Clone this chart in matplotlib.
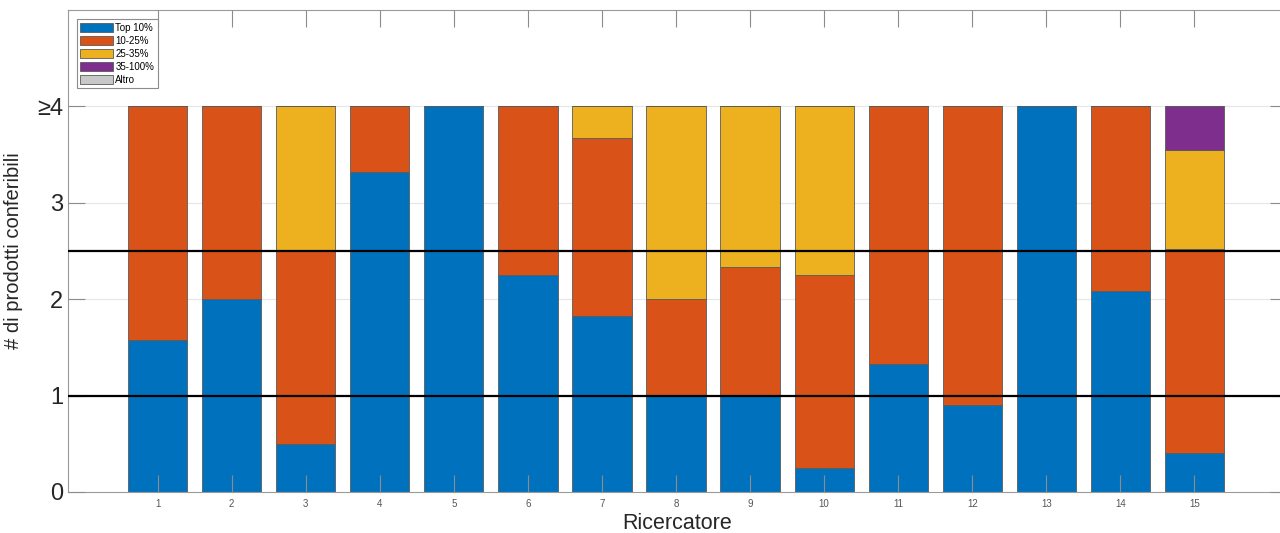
import numpy as np
import matplotlib
matplotlib.use('Agg')
import matplotlib.pyplot as plt

plt.rcParams['font.family'] = ['Liberation Sans', 'DejaVu Sans']

# dati: numero di prodotti per fascia, per ricercatore
ricercatori = np.arange(1, 16)
top10 = [1.58, 2.0, 0.5, 3.32, 4.0, 2.25, 1.83, 1.0, 1.0, 0.25, 1.33, 0.9, 4.0, 2.08, 0.4]
p10_25 = [2.42, 2.0, 2.0, 0.68, 0.0, 1.75, 1.84, 1.0, 1.33, 2.0, 2.67, 3.1, 0.0, 1.92, 2.12]
p25_35 = [0.0, 0.0, 1.5, 0.0, 0.0, 0.0, 0.33, 2.0, 1.67, 1.75, 0.0, 0.0, 0.0, 0.0, 1.03]
p35_100 = [0.0] * 14 + [0.45]
altro = [0.0] * 15
soglie = [1, 2.5]
etichette = ['Top 10%', '10-25%', '25-35%', '35-100%', 'Altro']
colori = ['#0072BD', '#D95319', '#EDB120', '#7E2F8E', '#C8C8C8']

fig = plt.figure(figsize=(12.8, 5.33), dpi=100)
# il bordo destro degli assi cade appena fuori dall'immagine
ax = fig.add_axes([68 / 1280, 41 / 533, (1287 - 68) / 1280, 482 / 533])

# griglia orizzontale chiara sotto le barre
for y in [1, 2, 3, 4]:
    ax.axhline(y, color='#e6e6e6', lw=0.8, zorder=0)

bottom = np.zeros(len(ricercatori))
for vals, lab, c in zip([top10, p10_25, p25_35, p35_100, altro], etichette, colori):
    vals = np.array(vals)
    ax.bar(ricercatori, vals, width=0.8, bottom=bottom, color=c,
           edgecolor='#5a5a5a', linewidth=0.6, label=lab, zorder=2)
    bottom += vals

for s in soglie:
    ax.axhline(s, color='black', lw=1.6, zorder=3)

ax.set_xlim(-0.21, 16.25)
ax.set_ylim(0, 5)
ax.set_xticks(ricercatori)
ax.set_xticklabels([str(r) for r in ricercatori], fontsize=7, color='#555555')
ax.set_yticks([0, 1, 2, 3, 4])
ax.set_yticklabels(['0', '1', '2', '3', '≥4'], fontsize=17, color='#262626')
ax.tick_params(axis='both', direction='in', length=12, color='#8c8c8c',
               top=True, right=True, width=0.8)
ax.tick_params(axis='x', pad=5)
ax.set_axisbelow(False)
for sp in ax.spines.values():
    sp.set_color('#9a9a9a')
    sp.set_linewidth(0.8)

ax.set_xlabel('Ricercatore', fontsize=15.5, color='#262626', labelpad=3)
ax.set_ylabel('# di prodotti conferibili', fontsize=14.5, color='#262626', labelpad=10)

leg = ax.legend(loc='upper left', bbox_to_anchor=(0.0074, 0.981), borderaxespad=0,
                fontsize=7, handlelength=3.3, handleheight=1.15, handletextpad=0.3,
                labelspacing=0.3, borderpad=0.35, fancybox=False,
                framealpha=1, edgecolor='#8c8c8c')
leg.get_frame().set_linewidth(0.8)

fig.savefig('out.png', dpi=100)
